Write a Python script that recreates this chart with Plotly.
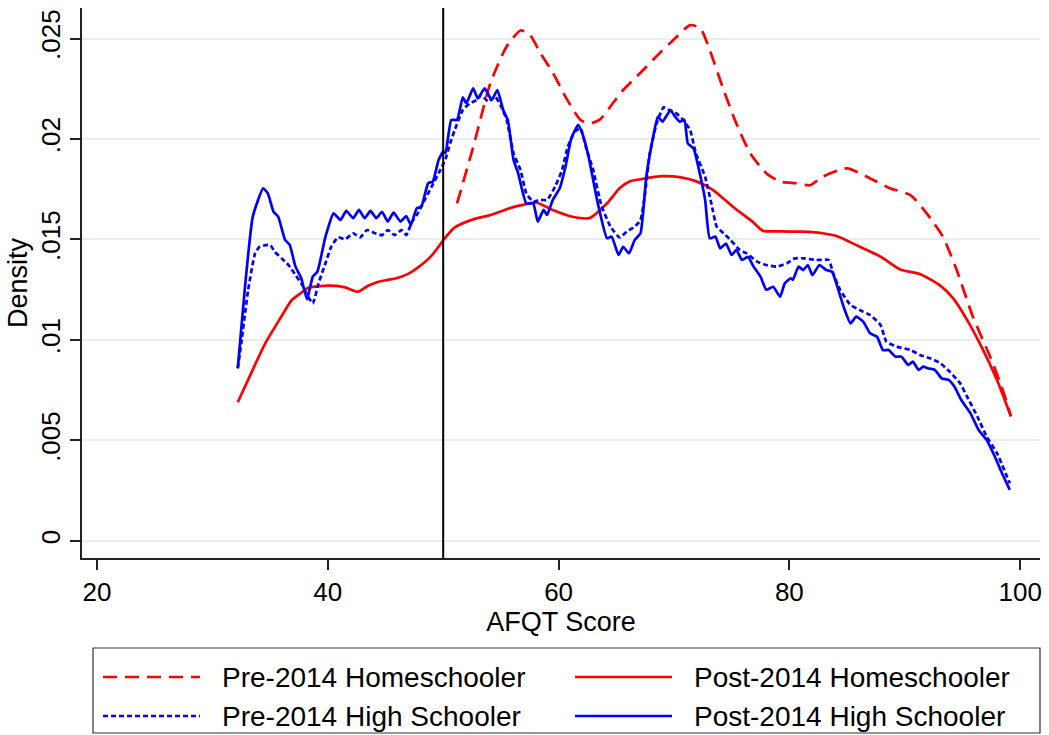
import plotly.graph_objects as go

# ---------------- data ----------------
x_pre_home = [51.2, 52.6, 54.1, 55.5, 56.7, 57.5, 58.4, 59.5, 60.7, 61.9, 62.7, 63.6, 64.7,
              65.6, 67.1, 68.8, 69.9, 71.4, 72.3, 73.1, 74.2, 75.4, 76.6, 78.0, 79.2, 80.6,
              81.8, 82.9, 85.0, 87.0, 88.7, 90.5, 91.9, 93.3, 94.5, 95.9, 97.4, 98.5, 99.2]
y_pre_home = [0.0168, 0.0196, 0.0228, 0.0246, 0.0254, 0.0252, 0.0243, 0.0233, 0.0220, 0.02095,
              0.02078, 0.02098, 0.02178, 0.02244, 0.0233, 0.0243, 0.0249, 0.02567, 0.0255,
              0.02443, 0.0226, 0.02078, 0.0193, 0.0183, 0.01788, 0.0178, 0.0177, 0.01813,
              0.01854, 0.01804, 0.01755, 0.01721, 0.0163, 0.01514, 0.01348, 0.01116, 0.00917,
              0.0075, 0.0062]

x_post_home = [32.2, 33.4, 34.6, 35.8, 36.9, 37.7, 38.3, 39.3, 40.3, 41.5, 42.6, 43.5, 44.4,
               45.3, 46.1, 47.0, 47.8, 49.0, 50.2, 51.0, 52.6, 54.0, 54.9, 56.0, 56.9, 58.1,
               59.5, 61.2, 62.7, 64.2, 65.3, 66.2, 67.1, 69.0, 70.5, 72.0, 73.4, 75.1, 76.8,
               77.7, 79.2, 80.9, 82.0, 83.0, 84.1, 86.1, 87.9, 89.6, 91.3, 93.0, 94.2, 95.4,
               96.5, 98.0, 99.2]
y_post_home = [0.0069, 0.0084, 0.00985, 0.0110, 0.0120, 0.01235, 0.0126, 0.01268, 0.0127,
               0.01262, 0.0124, 0.0127, 0.0129, 0.0130, 0.0131, 0.0133, 0.0136, 0.0142, 0.0151,
               0.0156, 0.0160, 0.0162, 0.01638, 0.0166, 0.01672, 0.01683, 0.01647, 0.01613,
               0.01607, 0.0168, 0.01756, 0.0179, 0.0180, 0.01815, 0.0181, 0.01788, 0.01746,
               0.01663, 0.01589, 0.01544, 0.0154, 0.01539, 0.01537, 0.0153, 0.01517, 0.01464,
               0.01415, 0.01351, 0.01328, 0.01274, 0.01207, 0.0110, 0.00983, 0.0080, 0.0062]

x_pre_hs = [32.2, 32.5, 33.1, 33.7, 34.1, 35.0, 35.4, 36.0, 36.6, 37.2, 37.7, 38.3, 38.7, 39.2,
            39.8, 40.3, 40.9, 41.5, 42.2, 42.8, 43.4, 44.1, 44.7, 45.2, 45.8, 46.4, 46.8, 47.3,
            47.8, 48.4, 49.0, 49.7, 50.2, 50.6, 51.0, 51.7, 52.3, 52.9, 53.3, 53.9, 54.5, 55.1,
            55.5, 56.1, 56.7, 57.2, 57.8, 58.4, 59.0, 59.7, 60.3, 60.8, 61.4, 61.9, 62.4, 63.0,
            63.7, 64.5, 65.3, 65.9, 66.6, 67.1, 67.5, 67.9, 68.5, 69.1, 69.6, 70.2, 70.8, 71.4,
            71.9, 72.7, 73.3, 73.7, 74.3, 74.9, 75.7, 76.3, 77.2, 78.0, 78.9, 79.8, 80.5, 81.3,
            82.3, 83.4, 83.8, 84.4, 85.3, 86.1, 87.0, 87.9, 88.4, 89.3, 90.5, 91.3, 92.2, 93.1,
            93.9, 94.8, 95.4, 96.3, 97.1, 98.0, 99.1]
y_pre_hs = [0.00859, 0.00983, 0.01249, 0.01431, 0.01464, 0.01473, 0.01439, 0.01406, 0.01373,
            0.01323, 0.01282, 0.01215, 0.01182, 0.01282, 0.01382, 0.01464, 0.01511, 0.01501,
            0.01531, 0.01511, 0.01547, 0.01531, 0.01522, 0.01547, 0.01522, 0.01547, 0.01522,
            0.01589, 0.0163, 0.01697, 0.01763, 0.0184, 0.0190, 0.01978, 0.02045, 0.02144,
            0.02178, 0.02194, 0.02219, 0.02186, 0.02211, 0.02153, 0.02095, 0.01929, 0.01846,
            0.0173, 0.01688, 0.01697, 0.01697, 0.01763, 0.01846, 0.01962, 0.02036, 0.02053,
            0.01954, 0.01846, 0.01672, 0.01564, 0.0151, 0.01539, 0.01564, 0.01597, 0.0173,
            0.01929, 0.02078, 0.02158, 0.02144, 0.02128, 0.02095, 0.02045, 0.01929, 0.01812,
            0.01663, 0.01564, 0.01531, 0.01498, 0.01448, 0.01431, 0.0139, 0.01373, 0.01365,
            0.01382, 0.01406, 0.01406, 0.01398, 0.01398, 0.01332, 0.01249, 0.01174, 0.01149,
            0.01124, 0.01075, 0.00992, 0.00967, 0.0095, 0.00925, 0.00909, 0.00884, 0.00842,
            0.00784, 0.00718, 0.00618, 0.00519, 0.00436, 0.00287]

x_post_hs = [32.2, 32.8, 33.5, 34.4, 34.8, 35.3, 35.7, 36.3, 36.7, 37.2, 37.7, 38.2, 38.7, 39.1,
             39.8, 40.5, 41.1, 41.6, 42.2, 42.7, 43.2, 43.7, 44.2, 44.7, 45.2, 45.7, 46.3, 46.8,
             47.2, 47.7, 48.1, 48.7, 49.1, 49.6, 50.0, 50.2, 50.7, 51.2, 51.7, 52.0, 52.6, 53.0,
             53.6, 54.2, 54.7, 55.2, 55.6, 56.1, 56.5, 57.2, 57.8, 58.2, 58.7, 59.0, 59.5, 60.1,
             60.6, 61.1, 61.7, 62.1, 62.6, 63.0, 63.4, 64.2, 64.6, 65.2, 65.6, 66.1, 66.6, 67.1,
             67.6, 68.2, 68.6, 69.0, 69.4, 69.7, 70.1, 70.5, 70.9, 71.2, 71.7, 72.3, 72.7, 73.1,
             73.6, 74.0, 74.5, 75.0, 75.4, 75.9, 76.4, 76.9, 77.5, 78.0, 78.6, 79.2, 79.6, 80.1,
             80.3, 80.8, 81.2, 81.6, 82.0, 82.6, 83.2, 83.7, 84.2, 84.8, 85.3, 85.8, 86.4, 87.0,
             87.6, 88.1, 88.6, 89.2, 89.7, 90.3, 90.7, 91.2, 91.6, 92.0, 92.6, 93.2, 93.8, 94.3,
             94.9, 95.7, 96.4, 97.1, 97.8, 98.5, 99.1]
y_post_hs = [0.00859, 0.01249, 0.01614, 0.01755, 0.0173, 0.01638, 0.01614, 0.01498, 0.01473,
             0.01365, 0.01307, 0.01202, 0.01315, 0.0134, 0.01514, 0.0163, 0.01597, 0.01643,
             0.01606, 0.01647, 0.01606, 0.01642, 0.01606, 0.01638, 0.01589, 0.01634, 0.01589,
             0.01617, 0.01572, 0.01655, 0.01663, 0.0178, 0.01788, 0.01896, 0.01937, 0.0193,
             0.02095, 0.02095, 0.02207, 0.02178, 0.02252, 0.02202, 0.02252, 0.02194, 0.02244,
             0.02144, 0.02095, 0.01896, 0.01829, 0.0168, 0.0168, 0.01589, 0.01647, 0.01622,
             0.01697, 0.01755, 0.01862, 0.02003, 0.0207, 0.0202, 0.01912, 0.01796, 0.0168,
             0.01506, 0.01514, 0.01423, 0.01464, 0.01431, 0.01498, 0.01531, 0.01812, 0.02011,
             0.02111, 0.02086, 0.0212, 0.02144, 0.02111, 0.02086, 0.02095, 0.01978, 0.01953,
             0.01812, 0.01697, 0.01506, 0.01514, 0.01456, 0.0148, 0.01423, 0.01448, 0.01398,
             0.01414, 0.01365, 0.01315, 0.0125, 0.01265, 0.01215, 0.01282, 0.01307, 0.01299,
             0.01365, 0.01348, 0.01373, 0.01323, 0.01373, 0.01348, 0.0134, 0.01257, 0.01149,
             0.01083, 0.01116, 0.01091, 0.01033, 0.01016, 0.0095, 0.0095, 0.00917, 0.00917,
             0.00876, 0.00892, 0.00851, 0.00867, 0.00859, 0.00851, 0.00809, 0.00801, 0.00768,
             0.00701, 0.00635, 0.00552, 0.00502, 0.0042, 0.00328, 0.00254]

series_names = ["Pre-2014 Homeschooler", "Post-2014 Homeschooler",
                "Pre-2014 High Schooler", "Post-2014 High Schooler"]
x_tick_vals = [20, 40, 60, 80, 100]
y_tick_vals = [0, 0.005, 0.01, 0.015, 0.02, 0.025]
y_tick_text = ["0", ".005", ".01", ".015", ".02", ".025"]
cutoff_score = 50

# ---------------- styling ----------------
FONT = "Liberation Sans, Arial, sans-serif"
RED = "#FF0000"
BLUE = "#0000FF"
styles = [
    dict(color=RED, width=2.7, dash="14px,8px"),
    dict(color=RED, width=2.7, dash="solid"),
    dict(color=BLUE, width=2.7, dash="5px,3px"),
    dict(color=BLUE, width=2.7, dash="solid"),
]
xs = [x_pre_home, x_post_home, x_pre_hs, x_post_hs]
ys = [y_pre_home, y_post_home, y_pre_hs, y_post_hs]
smooth = [0.6, 0.6, 0.45, 0.45]

fig = go.Figure()
for name, x, y, st, sm in zip(series_names, xs, ys, styles, smooth):
    line = dict(st, shape="spline", smoothing=sm)
    fig.add_trace(go.Scatter(x=x, y=y, mode="lines", name=name, line=line,
                             showlegend=False, hoverinfo="x+y+name"))

fig.add_vline(x=cutoff_score, line=dict(color="black", width=2))

# ---------------- manual Stata-like legend below the plot ----------------
W, H = 1049, 735
ML, MR, MT, MB = 82, 9, 8, 177
pw, ph = W - ML - MR, H - MT - MB


def px_x(p):
    return (p - ML) / pw


def px_y(p):
    return (H - MB - p) / ph


fig.add_shape(type="rect", xref="paper", yref="paper",
              x0=px_x(93), x1=px_x(1040), y0=px_y(733), y1=px_y(648),
              line=dict(color="#333333", width=1.2), fillcolor="rgba(0,0,0,0)")
cols = [(103, 200, 220), (575, 672, 692)]
rows = [677, 716]
for i, (name, st) in enumerate(zip(series_names, styles)):
    r, c = divmod(i, 2)
    lx0, lx1, tx = cols[c]
    yy = px_y(rows[r])
    fig.add_shape(type="line", xref="paper", yref="paper",
                  x0=px_x(lx0), x1=px_x(lx1), y0=yy, y1=yy,
                  line=dict(color=st["color"], width=st["width"], dash=st["dash"]))
    fig.add_annotation(x=px_x(tx), y=yy, xref="paper", yref="paper", text=name,
                       showarrow=False, xanchor="left", yanchor="middle",
                       font=dict(family=FONT, size=28, color="black"))

fig.update_layout(
    width=W, height=H,
    margin=dict(l=ML, r=MR, t=MT, b=MB, pad=0, autoexpand=False),
    paper_bgcolor="white", plot_bgcolor="white",
    font=dict(family=FONT, size=26, color="black"),
    showlegend=False,
)
fig.update_xaxes(
    range=[18.7, 101.72], tickvals=x_tick_vals, ticks="outside", ticklen=10,
    tickwidth=1.5, tickcolor="#222222", showline=True, linecolor="#222222", linewidth=1.5,
    showgrid=False, zeroline=False, tickfont=dict(size=26), automargin=False,
    title=dict(text="AFQT Score", font=dict(size=27), standoff=0),
)
fig.update_yaxes(
    range=[-0.00085, 0.02652], tickvals=y_tick_vals, ticktext=y_tick_text,
    ticks="outside", ticklen=10, tickwidth=1.5, tickcolor="#222222", tickangle=-90,
    showline=True, linecolor="#222222", linewidth=1.5,
    showgrid=True, gridcolor="#E6EFF1", gridwidth=1.5, zeroline=False,
    tickfont=dict(size=26), automargin=False,
    title=dict(text="Density", font=dict(size=27), standoff=0),
)

fig.write_html(
    "out.html",
    config={"displayModeBar": False},
    post_script="document.body.style.margin='0';document.body.style.overflow='hidden';",
)
